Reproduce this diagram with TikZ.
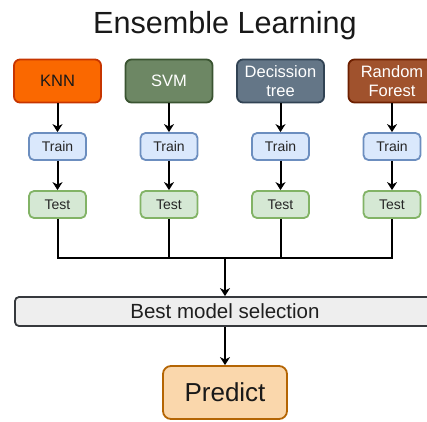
\documentclass[tikz,border=0pt]{standalone}
\usepackage{fontspec}
\setmainfont{Liberation Sans}
\usetikzlibrary{arrows.meta}

\definecolor{knnfill}{HTML}{FA6800}
\definecolor{knnline}{HTML}{C73500}
\definecolor{svmfill}{HTML}{6D8764}
\definecolor{svmline}{HTML}{3A5431}
\definecolor{dtfill}{HTML}{647687}
\definecolor{dtline}{HTML}{314354}
\definecolor{rffill}{HTML}{A0522D}
\definecolor{rfline}{HTML}{6D1F00}
\definecolor{trainfill}{HTML}{DAE8FC}
\definecolor{trainline}{HTML}{6C8EBF}
\definecolor{testfill}{HTML}{D5E8D4}
\definecolor{testline}{HTML}{82B366}
\definecolor{bestfill}{HTML}{EEEEEE}
\definecolor{bestline}{HTML}{36393D}
\definecolor{predfill}{HTML}{FAD7AC}
\definecolor{predline}{HTML}{B46504}

\begin{document}
\begin{tikzpicture}[x=1pt,y=-1pt,
  model/.style={draw, line width=1.8pt, rounded corners=6pt,
    minimum width=87pt, minimum height=43pt, inner sep=0pt,
    align=center, font=\fontsize{16.5}{19}\selectfont},
  stage/.style={draw, line width=1.8pt, rounded corners=5pt,
    minimum width=57pt, minimum height=27pt, inner sep=0pt,
    text=black!85, font=\fontsize{14}{16}\selectfont},
  trainbox/.style={stage, fill=trainfill, draw=trainline},
  testbox/.style={stage, fill=testfill, draw=testline},
  wire/.style={line width=2pt, line join=miter},
  arr/.style={wire, -{Stealth[length=8pt,width=10pt,inset=2.5pt]}}]

\useasboundingbox (0,0) rectangle (427,421);
\clip (0,0) rectangle (427,421);

% title
\node[anchor=base, font=\fontsize{30.6}{36}\selectfont, text=black!90] (title) at (225,33) {Ensemble Learning};

% classifiers
\node[model, fill=knnfill, draw=knnline, text=black!90] (knn) at (57.5,81) {KNN};
\node[model, fill=svmfill, draw=svmline, text=white] (svm) at (169,81) {SVM};
\node[model, fill=dtfill, draw=dtline, text=white] (dt) at (280.5,81) {Decission\\tree};
\node[model, fill=rffill, draw=rfline, text=white] (rf) at (392,81) {Random\\Forest};

% training stage
\node[trainbox] (knnTrain) at (57.5,146.5) {Train};
\node[trainbox] (svmTrain) at (169,146.5) {Train};
\node[trainbox] (dtTrain) at (280.5,146.5) {Train};
\node[trainbox] (rfTrain) at (392,146.5) {Train};

% testing stage
\node[testbox] (knnTest) at (57.5,204.5) {Test};
\node[testbox] (svmTest) at (169,204.5) {Test};
\node[testbox] (dtTest) at (280.5,204.5) {Test};
\node[testbox] (rfTest) at (392,204.5) {Test};

% selection and prediction
\node[draw=bestline, fill=bestfill, line width=1.8pt, rounded corners=4pt,
  minimum width=420pt, minimum height=29pt, inner sep=0pt,
  text=black!88, font=\fontsize{20.5}{24}\selectfont] (best) at (225,311.5) {Best model selection};
\node[draw=predline, fill=predfill, line width=1.8pt, rounded corners=8pt,
  minimum width=124pt, minimum height=53pt, inner sep=0pt,
  text=black!90, font=\fontsize{26}{30}\selectfont] (predict) at (225,392.5) {Predict};

% vertical flows
\foreach \m in {knn,svm,dt,rf}{
  \draw[arr] (\m) -- (\m Train);
  \draw[arr] (\m Train) -- (\m Test);
}

% collecting bus
\coordinate (bus) at (225,258);
\draw[wire] (knnTest.south) -- (knnTest.south |- bus) -- (rfTest.south |- bus) -- (rfTest.south);
\draw[wire] (svmTest.south) -- (svmTest.south |- bus);
\draw[wire] (dtTest.south) -- (dtTest.south |- bus);
\draw[arr] (bus) -- (best);
\draw[arr] (best) -- (predict);
\end{tikzpicture}
\end{document}
